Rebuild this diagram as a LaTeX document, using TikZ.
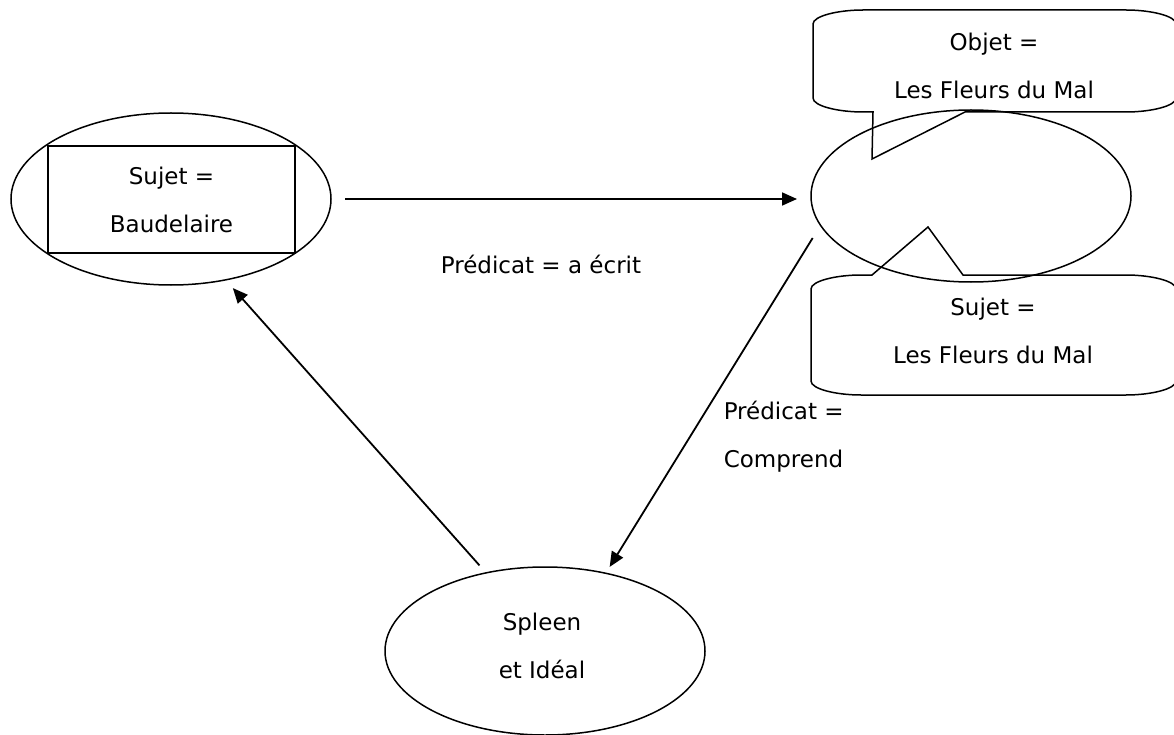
\documentclass[tikz,border=0pt]{standalone}
\usepackage{fontspec}
\setmainfont{DejaVu Sans}
\usetikzlibrary{arrows.meta,shapes.geometric}

\begin{document}
\begin{tikzpicture}[x=1pt,y=-1pt,line width=1.5pt,>={Triangle[length=15pt,width=13pt]},
  font=\fontsize{23}{48}\selectfont,
  bulle/.style={draw,ellipse,minimum width=320pt,minimum height=172pt,inner sep=0pt,outer sep=0pt},
  texte/.style={align=center,inner sep=0pt},
  fleche/.style={->,line width=1.8pt}]
  \useasboundingbox (0,0) rectangle (1174,735);
  % les trois ellipses
  \node[bulle] (baud) at (171,199) {};
  \node[draw,texte,minimum width=247pt,minimum height=107pt] (sujet) at (171.5,199.5) {Sujet =\\Baudelaire};
  \node[bulle] (fleurs) at (971,196) {};
  \node[bulle,minimum height=168pt] (spleen) at (545,651) {};
  \node[texte] (recueil) at (542,646) {Spleen\\et Idéal};
  % les deux bulles
  \draw (813,24) -- (813,98) .. controls (813,106) and (838,112) .. (863,112) -- (873,112) -- (872,159)
    -- (965,112) -- (1126,112) .. controls (1151,112) and (1176,106) .. (1176,98) -- (1176,24)
    .. controls (1176,16) and (1151,10) .. (1126,10) -- (863,10) .. controls (838,10) and (813,16) .. cycle;
  \node[texte] (objet) at (994,66) {Objet =\\Les Fleurs du Mal};
  \draw (811,289) -- (811,381) .. controls (811,389) and (836,395) .. (861,395) -- (1126,395)
    .. controls (1151,395) and (1176,389) .. (1176,381) -- (1176,289) .. controls (1176,281) and (1151,275) .. (1126,275)
    -- (963,275) -- (928,227) -- (872,275) -- (861,275) .. controls (836,275) and (811,281) .. cycle;
  \node[texte] (theme) at (993,331) {Sujet =\\Les Fleurs du Mal};
  % les predicats
  \draw[fleche,shorten <=14pt,shorten >=14pt] (baud.east) -- (baud.east -| fleurs.west);
  \node[anchor=base] (ecrit) at (541,273) {Prédicat = a écrit};
  \draw[fleche,shorten <=15pt,shorten >=7.5pt] (fleurs.191) -- (spleen.52);
  \node[texte,align=left,anchor=west] (comprend) at (723,437) {Prédicat =\\Comprend};
  \draw[fleche,shorten <=10pt,shorten >=11pt] (spleen.127) -- (baud.304);
\end{tikzpicture}
\end{document}
